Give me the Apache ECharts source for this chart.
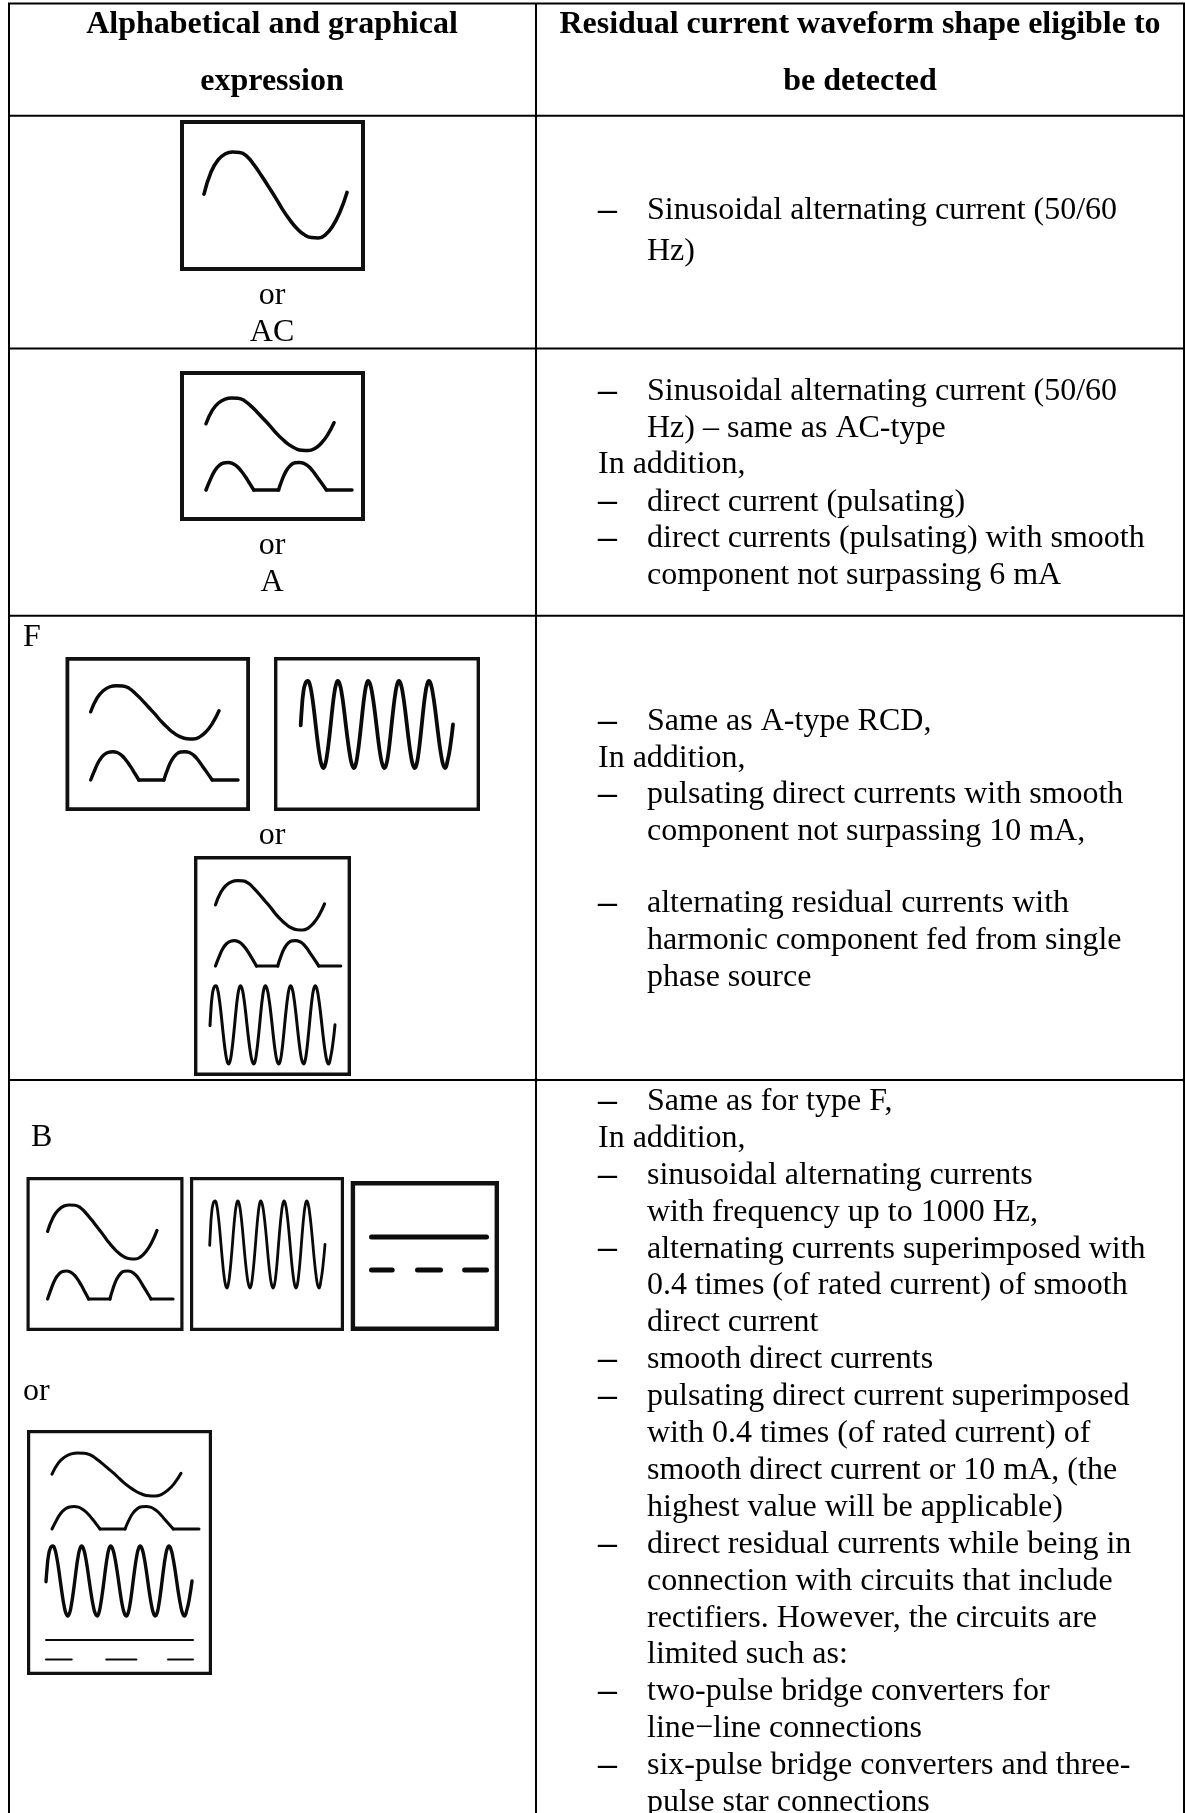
<!DOCTYPE html>
<html><head><meta charset="utf-8">
<style>html,body{margin:0;padding:0;background:#fff}#c{width:1185px;height:1813px}</style>
<script src="https://cdn.jsdelivr.net/npm/echarts@6/dist/echarts.min.js"></script>
</head><body><div id="c"></div>
<script>
// ---- waveform shapes (unit box, y down) ----
const sineShape=[[0,.49],[.05,.23],[.10,.09],[.15,.02],[.20,0],[.25,.005],[.30,.05],[.35,.15],[.40,.27],[.45,.40],[.50,.53],[.55,.67],[.60,.79],[.65,.89],[.70,.96],[.75,.995],[.80,1],[.85,.96],[.90,.86],[.95,.70],[1,.47]];
const pulseHumpA=[[0,1],[.03,.62],[.06,.30],[.09,.11],[.12,.02],[.15,0],[.18,.03],[.21,.13],[.24,.30],[.27,.52],[.30,.77],[.327,1]];
const pulseFlatA=[[.327,1],[.497,1]];
const pulseHumpB=[[.497,1],[.52,.65],[.55,.30],[.58,.10],[.61,.01],[.64,0],[.67,.03],[.70,.13],[.73,.30],[.76,.52],[.79,.74],[.825,1]];
const pulseFlatB=[[.825,1],[1,1]];
const hfShape=[[0,.51],[.008,.3],[.016,.15],[.03,.03],[.047,0],[.0597,.04],[.0725,.15],[.0853,.31],[.098,.5],[.1108,.69],[.1235,.85],[.1363,.96],[.149,1],[.161,.96],[.173,.85],[.185,.69],[.197,.5],[.2085,.31],[.22,.15],[.232,.04],[.244,0],[.257,.04],[.27,.15],[.283,.31],[.296,.5],[.3095,.69],[.323,.85],[.3365,.96],[.35,1],[.3615,.96],[.373,.85],[.385,.69],[.397,.5],[.4085,.31],[.42,.15],[.4315,.04],[.443,0],[.4565,.04],[.47,.15],[.4835,.31],[.497,.5],[.51,.69],[.523,.85],[.5365,.96],[.55,1],[.562,.96],[.574,.85],[.5855,.69],[.597,.5],[.609,.31],[.621,.15],[.633,.04],[.645,0],[.658,.04],[.671,.15],[.684,.31],[.697,.5],[.71,.69],[.723,.85],[.736,.96],[.749,1],[.7605,.96],[.772,.85],[.7835,.69],[.795,.5],[.8065,.31],[.818,.15],[.83,.04],[.842,0],[.855,.04],[.868,.15],[.8815,.31],[.895,.5],[.9085,.69],[.922,.85],[.935,.96],[.948,1],[.964,.92],[.982,.75],[1,.5]];
const solidShape=[[0,.5],[1,.5]];
const dashShapeA=[[0,.18],[.4,.6],[.81,1]];
const dashShapeB=[[0,.175],[.41,.615],[.83,1]];

// ---- text ----
const headerLeft=['Alphabetical and graphical','expression'];
const headerRight=['Residual current waveform shape eligible to','be detected'];
const orWord='or';
const typeNames=['AC','A','F','B'];
const cutOffCaption=[['Types',103],['p',361],['p',453]];
const rowAC=[['d','Sinusoidal alternating current (50/60'],['t','Hz)']];
const rowA=[['d','Sinusoidal alternating current (50/60'],['t','Hz) – same as AC-type'],['p','In addition,'],['d','direct current (pulsating)'],['d','direct currents (pulsating) with smooth'],['t','component not surpassing 6 mA']];
const rowF=[['d','Same as A-type RCD,'],['p','In addition,'],['d','pulsating direct currents with smooth'],['t','component not surpassing 10 mA,'],['d','alternating residual currents with'],['t','harmonic component fed from single'],['t','phase source']];
const rowB=[['d','Same as for type F,'],['p','In addition,'],['d','sinusoidal alternating currents'],['t','with frequency up to 1000 Hz,'],['d','alternating currents superimposed with'],['t','0.4 times (of rated current) of smooth'],['t','direct current'],['d','smooth direct currents'],['d','pulsating direct current superimposed'],['t','with 0.4 times (of rated current) of'],['t','smooth direct current or 10 mA, (the'],['t','highest value will be applicable)'],['d','direct residual currents while being in'],['t','connection with circuits that include'],['t','rectifiers. However, the circuits are'],['t','limited such as:'],['d','two-pulse bridge converters for'],['t','line−line connections'],['d','six-pulse bridge converters and three-'],['t','pulse star connections']];

// ---- layout (page pixels) ----
const ruleY=[3.5,115.8,348.5,615.8,1080], ruleX=[9,536,1184];
const FS=32, MID=.265;
const rowBaselines={AC:[219,260],A:[400,437,473.5,510.7,547.4,584],F:[730,767,803,840,912.5,949.5,986.5]};
rowBaselines.B=rowB.map((_,i)=>1110+36.9*i);
const boxes=[[180,120,365,271,4],[180,371,365,521,4],[65.5,657,250,811,3.8],[274,657,480,811,3.4],[194,856,351,1076,3.4],[26.5,1177,183.5,1331,3.2],[190,1177,344,1331,3.2],[350.7,1181,499,1331,4.4],[27,1430,212,1675,3.2]];
const sine='sine',pulse='pulse',hf='hf',solid='solid';
const waves=[
 [sine,204,152,347,238,3.6],
 [sine,206,398,334,450.6,3.5],[pulse,206,462.5,352,490,3.5],
 [sine,90.7,685.7,219,739,3.4],[pulse,90.7,751.7,238,780,3.4],
 [hf,300.7,681,453,768,3.8],
 [sine,215.5,880.7,324.5,930,3.2],[pulse,215.5,940.7,340.7,966,3.2],[hf,210,985.7,335,1064,3],
 [sine,47.6,1205,157,1259,3.2],[pulse,47.6,1271,173,1299,3.2],
 [hf,209.7,1201,325,1288,2.8],
 [solid,371.5,1234,486.5,1240,5],
 [sine,52,1453,181,1496,3],[pulse,52,1506.5,199,1529,3],
 [hf,46,1546,192,1616,3.4],
 [solid,46,1639,193,1641,2]
];
const dashes=[[dashShapeA,371.5,486.5,1270,5],[dashShapeB,46,193,1659.5,2]];

// ---- build ----
const grid=[],xAxis=[],yAxis=[],series=[];
function addGrid(x0,y0,x1,y1,extra){
  const i=grid.length;
  grid.push(Object.assign({left:x0,top:y0,width:x1-x0,height:y1-y0,containLabel:false,show:false},extra||{}));
  xAxis.push({type:'value',gridIndex:i,min:0,max:1,show:false});
  yAxis.push({type:'value',gridIndex:i,min:0,max:1,inverse:true,show:false});
  return i;
}
function addLine(i,data,w,smooth){
  series.push({type:'line',xAxisIndex:i,yAxisIndex:i,data:data,smooth:smooth?0.5:false,showSymbol:false,symbol:'none',clip:false,silent:true,
    lineStyle:{color:'#0a0a0a',width:w,cap:'round',join:'round'}});
}
// page grid for the table rules
const P=grid.length;
grid.push({left:0,top:0,width:1185,height:1813,show:false});
xAxis.push({type:'value',gridIndex:0,min:0,max:1185,show:false});
yAxis.push({type:'value',gridIndex:0,min:0,max:1813,inverse:true,show:false});
ruleY.forEach(y=>addLine(P,[[8,y],[1185,y]],2,false));
ruleX.forEach(x=>addLine(P,[[x,3],[x,1813]],2,false));
series.forEach(s=>{s.lineStyle.cap='butt';s.lineStyle.color='#000';});

boxes.forEach(b=>{const h=b[4]/2;
  const i=addGrid(b[0]+h,b[1]+h,b[2]-h,b[3]-h,{show:true,borderColor:'#111',borderWidth:b[4],backgroundColor:'transparent'});
  series.push({type:'line',xAxisIndex:i,yAxisIndex:i,data:[],showSymbol:false});
});
waves.forEach(w=>{const i=addGrid(w[1],w[2],w[3],w[4]);
  if(w[0]===sine)addLine(i,sineShape,w[5],true);
  else if(w[0]===hf)addLine(i,hfShape,w[5],true);
  else if(w[0]===solid)addLine(i,solidShape,w[5],false);
  else{addLine(i,pulseHumpA,w[5],true);addLine(i,pulseFlatA,w[5],false);addLine(i,pulseHumpB,w[5],true);addLine(i,pulseFlatB,w[5],false);}
});
dashes.forEach(d=>{const i=addGrid(d[1],d[3]-1,d[2],d[3]+1);
  d[0].forEach(seg=>addLine(i,[[seg[0],.5],[seg[1],.5]],d[4],false));});

// text
const graphic=[];
function txt(s,x,base,o){o=o||{};const fs=o.fs||FS;
  graphic.push({type:'text',x:x,y:base-fs*MID,scaleX:o.sx||1,silent:true,z:50,
    style:{text:s,x:0,y:0,fontFamily:'"Liberation Serif"',fontSize:fs,fontWeight:o.b?'bold':'normal',fill:'#000',
      textAlign:o.a||'left',textVerticalAlign:'middle'}});
}
const XD=598,XT=647;
function body(rows,bases){rows.forEach((r,i)=>{const y=bases[i];
  if(r[0]==='d'){txt('–',XD,y,{sx:1.18,b:1});txt(r[1],XT,y);}
  else if(r[0]==='t'){txt(r[1],XT,y);}
  else txt(r[1],XD,y);});}
cutOffCaption.forEach(c=>txt(c[0],c[1],-6.5,{fs:28}));
txt(headerLeft[0],272,33.5,{b:1,a:'center'});txt(headerLeft[1],272,90,{b:1,a:'center'});
txt(headerRight[0],860,33.5,{b:1,a:'center'});txt(headerRight[1],860,90,{b:1,a:'center'});
body(rowAC,rowBaselines.AC);body(rowA,rowBaselines.A);body(rowF,rowBaselines.F);body(rowB,rowBaselines.B);
txt(orWord,272,304,{a:'center'});txt(typeNames[0],272,341,{a:'center'});
txt(orWord,272,554,{a:'center'});txt(typeNames[1],272,591,{a:'center'});
txt(typeNames[2],23,645.7);txt(orWord,272,844,{a:'center'});
txt(typeNames[3],31,1146);txt(orWord,23,1400);

const chart=echarts.init(document.getElementById('c'),null,{renderer:'canvas'});
chart.setOption({animation:false,backgroundColor:'#fff',tooltip:{show:false},grid,xAxis,yAxis,series,graphic});
</script></body></html>
